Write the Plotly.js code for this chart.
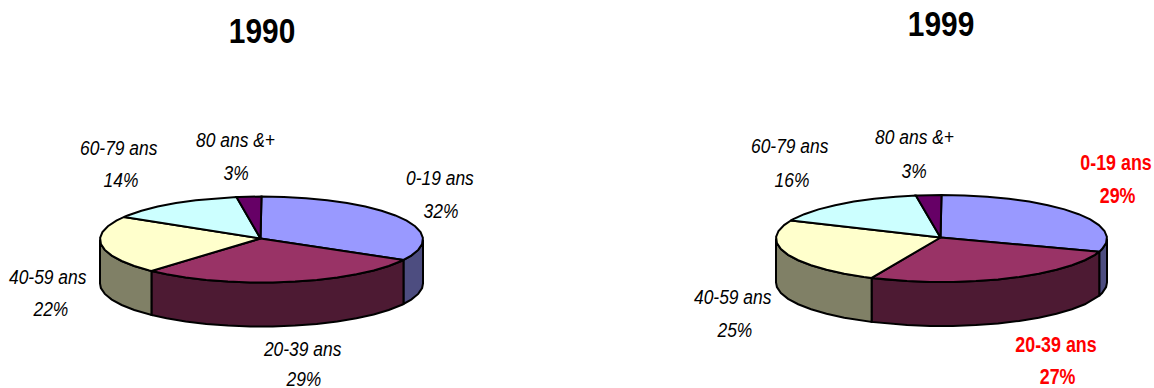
<!DOCTYPE html>
<html>
<head>
<meta charset="utf-8">
<script src="https://cdn.plot.ly/plotly-3.0.1.min.js"></script>
<style>
html,body{margin:0;padding:0;background:#fff}
#chart{width:1154px;height:388px}
/* Condensed lettering for every label and title */
#chart .annotation-text{transform-box:fill-box;transform-origin:center;transform:scaleX(.83)}
</style>
</head>
<body>
<div id="chart"></div>
<script>
// Age groups and their shares (%) for each census year
const ageGroups = ['0-19 ans', '20-39 ans', '40-59 ans', '60-79 ans', '80 ans &+'];
const shares1990 = [32, 29, 22, 14, 3];
const shares1999 = [29, 27, 25, 16, 3];

// Slice colours: top face and darker wall
const topColors = ['#9999FF', '#993366', '#FFFFCC', '#CCFFFF', '#660066'];
const wallColors = ['#4D4D80', '#4D1A33', '#808066', '#668080', '#330033'];

// Geometry of each tilted pie, in plot units (the axes run in pixels)
const pie1990 = {year: '1990', shares: shares1990, cx: 261.5, cy: 239.5, rx: 161.5, ry: 43, depth: 44,
  titleAt: [262, 30],
  labelAt: [[440, 177, 441, 210], [302, 348, 303, 378], [48, 276, 50, 308], [119, 147, 121, 179], [235, 139, 236, 172]],
  emphasised: []};
const pie1999 = {year: '1999', shares: shares1999, cx: 941.5, cy: 238.5, rx: 165.5, ry: 43.5, depth: 44,
  titleAt: [941, 23],
  labelAt: [[1116, 163, 1117, 196], [1056, 345, 1057, 377], [733, 296, 734, 329], [790, 145, 792, 179], [914, 136, 914, 170]],
  emphasised: [0, 1]};

const STEP = 8;       // facet size in degrees: the rim is a polygon, not a smooth curve
const VIEW_TURN = 3.4; // apparent clockwise drift of slice edges caused by the viewing angle
const OUTLINE = {color: '#000', width: 2};
const LABEL_FONT = 'Liberation Sans';

function viewAngle(deg) {
  return deg + VIEW_TURN * Math.pow(Math.abs(Math.sin(deg * Math.PI / 360)), 0.25);
}

function rimPoint(p, deg, drop) {
  const a = deg * Math.PI / 180;
  return [p.cx + p.rx * Math.sin(a), p.cy - p.ry * Math.cos(a) + (drop || 0)];
}

function arcAngles(from, to) {
  const out = [from];
  for (let d = Math.ceil(from / STEP + 1e-6) * STEP; d < to - 1e-6; d += STEP) out.push(d);
  out.push(to);
  return out;
}

function polygon(points, color) {
  return {
    type: 'scatter', mode: 'lines', hoverinfo: 'skip', showlegend: false,
    x: points.map(q => q[0]), y: points.map(q => q[1]),
    fill: 'toself', fillcolor: color, line: OUTLINE
  };
}

function pieTraces(p) {
  const walls = [], tops = [];
  let running = 0;
  p.shares.forEach((share, i) => {
    const start = viewAngle(running * 3.6);
    running += share;
    const end = running >= 100 ? 360 : viewAngle(running * 3.6);
    // Wall: only the part of the rim facing the viewer (90 to 270 degrees)
    const wFrom = Math.max(start, 90), wTo = Math.min(end, 270);
    if (wFrom < wTo) {
      const rim = arcAngles(wFrom, wTo);
      const upper = rim.map(d => rimPoint(p, d, 0));
      const lower = rim.slice().reverse().map(d => rimPoint(p, d, p.depth));
      walls.push(polygon(upper.concat(lower, [upper[0]]), wallColors[i]));
    }
    const centre = [p.cx - 1, p.cy - 1];
    tops.push(polygon([centre].concat(arcAngles(start, end).map(d => rimPoint(p, d, 0)), [centre]), topColors[i]));
  });
  return walls.concat(tops);
}

function pieAnnotations(p) {
  const notes = [{
    text: '<b>' + p.year + '</b>', x: p.titleAt[0], y: p.titleAt[1], xref: 'x', yref: 'y',
    showarrow: false, font: {family: LABEL_FONT, size: 36, color: '#000'}
  }];
  p.shares.forEach((share, i) => {
    const strong = p.emphasised.includes(i);
    const font = {family: LABEL_FONT, size: strong ? 21.5 : 21, color: strong ? '#FF0000' : '#000'};
    const wrap = s => strong ? '<b>' + s + '</b>' : '<i>' + s + '</i>';
    const pos = p.labelAt[i];
    notes.push({text: wrap(ageGroups[i].replace('&', '&amp;')), x: pos[0], y: pos[1], xref: 'x', yref: 'y', showarrow: false, font});
    notes.push({text: wrap(share + '%'), x: pos[2], y: pos[3], xref: 'x', yref: 'y', showarrow: false, font});
  });
  return notes;
}

const pies = [pie1990, pie1999];
const hidden = {visible: false, fixedrange: true};

Plotly.newPlot('chart', pies.flatMap(pieTraces), {
  width: 1154, height: 388,
  margin: {l: 0, r: 0, t: 0, b: 0},
  paper_bgcolor: '#fff', plot_bgcolor: '#fff',
  showlegend: false,
  xaxis: Object.assign({range: [0, 1154]}, hidden),
  yaxis: Object.assign({range: [388, 0]}, hidden),
  annotations: pies.flatMap(pieAnnotations)
}, {staticPlot: true, displayModeBar: false});
</script>
</body>
</html>
